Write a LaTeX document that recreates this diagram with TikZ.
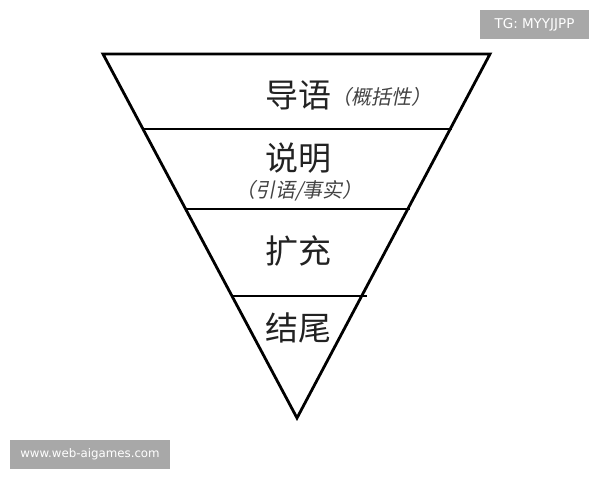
\documentclass[tikz,border=0pt]{standalone}
\usepackage{fontspec}
\newfontfamily\cjk{Noto Sans CJK SC}
\newfontfamily\cjkit[FakeSlant=0.2]{Noto Sans CJK SC}
\newfontfamily\wmfont{DejaVu Sans}
\definecolor{wmgray}{HTML}{A8A8A8}
\definecolor{txt}{HTML}{222222}
\begin{document}
\begin{tikzpicture}[x=1pt,y=-1pt,
  title/.style={font=\cjk\fontsize{33}{33}\selectfont, text=txt, inner sep=0pt},
  note/.style={font=\cjkit\fontsize{20}{20}\selectfont, text=txt!85, inner sep=0pt},
  wmbox/.style={fill=wmgray},
  wm/.style={text=white, inner sep=0pt}]
\useasboundingbox (0,0) rectangle (600,480);
\fill[white] (0,0) rectangle (600,480);
% triangle
\coordinate (tl) at (103,54);
\coordinate (tr) at (490,54);
\coordinate (b) at (297,418);
\draw[line width=2.8pt, line join=miter] (tl) -- (tr) -- (b) -- cycle;
% layer lines
\coordinate (l1a) at (143,129); \coordinate (l1b) at (452,129);
\coordinate (l2a) at (186,209); \coordinate (l2b) at (410,209);
\coordinate (l3a) at (233,296); \coordinate (l3b) at (367,296);
\draw[line width=1.3pt] (l1a) -- (l1b);
\draw[line width=1.3pt] (l2a) -- (l2b);
\draw[line width=1.3pt] (l3a) -- (l3b);
% texts
\node[title] (t1) at (298,95) {导语};
\node[note, anchor=west] (n1) at (331,97) {（概括性）};
\node[title] (t2) at (298,158) {说明};
\node[note] (n2) at (299,191) {（引语/事实）};
\node[title] (t3) at (298,251) {扩充};
\node[title] (t4) at (298,328) {结尾};
% watermarks
\fill[wmbox] (480,10) rectangle (589,39);
\node[wm, font=\wmfont\fontsize{13.5}{13.5}\selectfont] (w1) at (534.5,25) {TG: MYYJJPP};
\fill[wmbox] (10,440) rectangle (170,469);
\node[wm, font=\wmfont\fontsize{11.8}{11.8}\selectfont] (w2) at (90,454.5) {www.web-aigames.com};
\end{tikzpicture}
\end{document}
